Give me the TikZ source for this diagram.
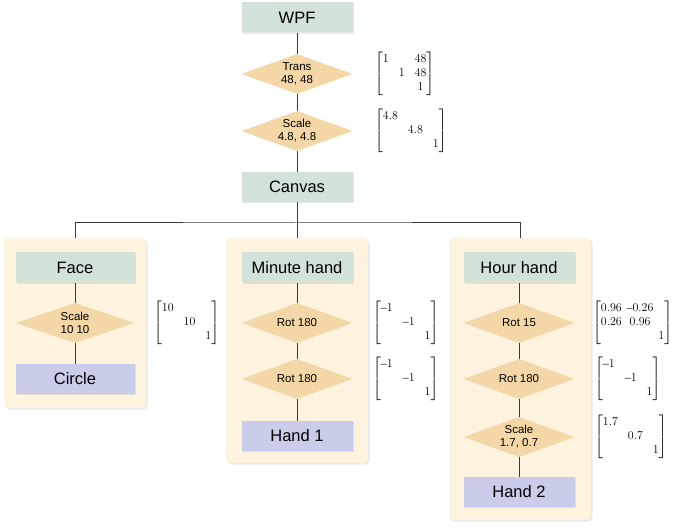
\documentclass[tikz,border=0pt]{standalone}
\usepackage{amsmath}
\usepackage{fontspec}
\setmainfont{Liberation Serif}
\newfontfamily\labelfont{Liberation Sans}
\newcommand{\dsh}{\text{--}}
\definecolor{cBox}{HTML}{D2E2D9}
\definecolor{cRot}{HTML}{F3D7A6}
\definecolor{cPanel}{HTML}{FDF3DF}
\definecolor{cLeaf}{HTML}{C9CDEA}
\definecolor{cLine}{HTML}{3A3A3A}
\usepackage{tikz}
\usetikzlibrary{shapes.geometric, shadows, positioning}

\begin{document}
\begin{tikzpicture}[x=1pt, y=-1pt,
  box/.style={fill=cBox, minimum width=111pt, minimum height=30pt, inner sep=0pt,
              font=\labelfont\fontsize{16.5}{18}\selectfont,
              drop shadow={shadow xshift=1.2pt, shadow yshift=-1.2pt, opacity=0.18}},
  leaf/.style={box, fill=cLeaf},
  rhomb/.style={diamond, fill=cRot, aspect=2.8, inner sep=0pt, minimum width=111pt,
                minimum height=40pt, align=center,
                font=\labelfont\fontsize{11.5}{13}\selectfont},
  panel/.style={fill=cPanel, rounded corners=4pt, minimum width=142pt,
                drop shadow={shadow xshift=1.5pt, shadow yshift=-1.5pt, opacity=0.18}},
  mat/.style={inner sep=0pt, font=\fontsize{12}{14}\selectfont},
  link/.style={cLine, line width=1pt}]
  \useasboundingbox (0,0) rectangle (677,529);
  % top chain
  \node[box] (wpf) at (297,17.5) {WPF};
  \node[rhomb] (trans) at (297,74) {Trans\\48, 48};
  \node[rhomb] (scale) at (297,131) {Scale\\4.8, 4.8};
  \node[box] (canvas) at (297,187) {Canvas};
  \node[mat, right=22pt of trans] (mtrans)
     {$\begin{bmatrix}1 & & 48\\ & 1 & 48\\ & & 1\end{bmatrix}$};
  \node[mat, right=22pt of scale] (mscale)
     {$\begin{bmatrix}4.8 & & \\ & 4.8 & \\ & & 1\end{bmatrix}$};
  \draw[link] (wpf) -- (trans);
  \draw[link] (trans) -- (scale);
  \draw[link] (scale) -- (canvas);
  % panels
  \node[panel, minimum height=170pt] (facepanel) at (75,323) {};
  \node[panel, minimum height=225pt] (minpanel) at (297,350.5) {};
  \node[panel, minimum height=282pt] (hourpanel) at (520,379) {};
  \coordinate (bus) at (297,223);
  \draw[link] (canvas) -- (bus);
  \draw[link] (facepanel.north) |- (bus) -| (hourpanel.north);
  \draw[link] (bus) -- (minpanel.north);
  % face
  \node[box, minimum width=119pt] (face) at (75,267.5) {Face};
  \node[rhomb, minimum width=119pt] (s10) at (75,323) {Scale\\10 10};
  \node[leaf, minimum width=119pt] (circle) at (75,379) {Circle};
  \node[mat, right=19pt of s10] (ms10)
     {$\begin{bmatrix}10 & & \\ & 10 & \\ & & 1\end{bmatrix}$};
  \draw[link] (face) -- (s10);
  \draw[link] (s10) -- (circle);
  % minute hand
  \node[box] (minute) at (297,267.5) {Minute hand};
  \node[rhomb] (rotm1) at (297,323) {Rot 180};
  \node[rhomb] (rotm2) at (297,379) {Rot 180};
  \node[leaf] (hand1) at (297,436) {Hand 1};
  \node[mat, right=20pt of rotm1] (mrotm1)
     {$\begin{bmatrix}\dsh1 & & \\ & \dsh1 & \\ & & 1\end{bmatrix}$};
  \node[mat, right=20pt of rotm2] (mrotm2)
     {$\begin{bmatrix}\dsh1 & & \\ & \dsh1 & \\ & & 1\end{bmatrix}$};
  \draw[link] (minute) -- (rotm1);
  \draw[link] (rotm1) -- (rotm2);
  \draw[link] (rotm2) -- (hand1);
  % hour hand
  \node[box] (hour) at (519,267.5) {Hour hand};
  \node[rhomb] (roth1) at (519,323) {Rot 15};
  \node[rhomb] (roth2) at (519,379) {Rot 180};
  \node[rhomb] (sh) at (519,437) {Scale\\1.7, 0.7};
  \node[leaf] (hand2) at (519,492) {Hand 2};
  \node[mat, right=18pt of roth1, font=\fontsize{11.5}{14}\selectfont,
        execute at begin node={\arraycolsep=2.5pt}] (mroth1)
     {$\begin{bmatrix}0.96 & \dsh0.26 & \\ 0.26 & 0.96 & \\ & & 1\end{bmatrix}$};
  \node[mat, right=20pt of roth2] (mroth2)
     {$\begin{bmatrix}\dsh1 & & \\ & \dsh1 & \\ & & 1\end{bmatrix}$};
  \node[mat, right=20pt of sh] (msh)
     {$\begin{bmatrix}1.7 & & \\ & 0.7 & \\ & & 1\end{bmatrix}$};
  \draw[link] (hour) -- (roth1);
  \draw[link] (roth1) -- (roth2);
  \draw[link] (roth2) -- (sh);
  \draw[link] (sh) -- (hand2);
\end{tikzpicture}
\end{document}
